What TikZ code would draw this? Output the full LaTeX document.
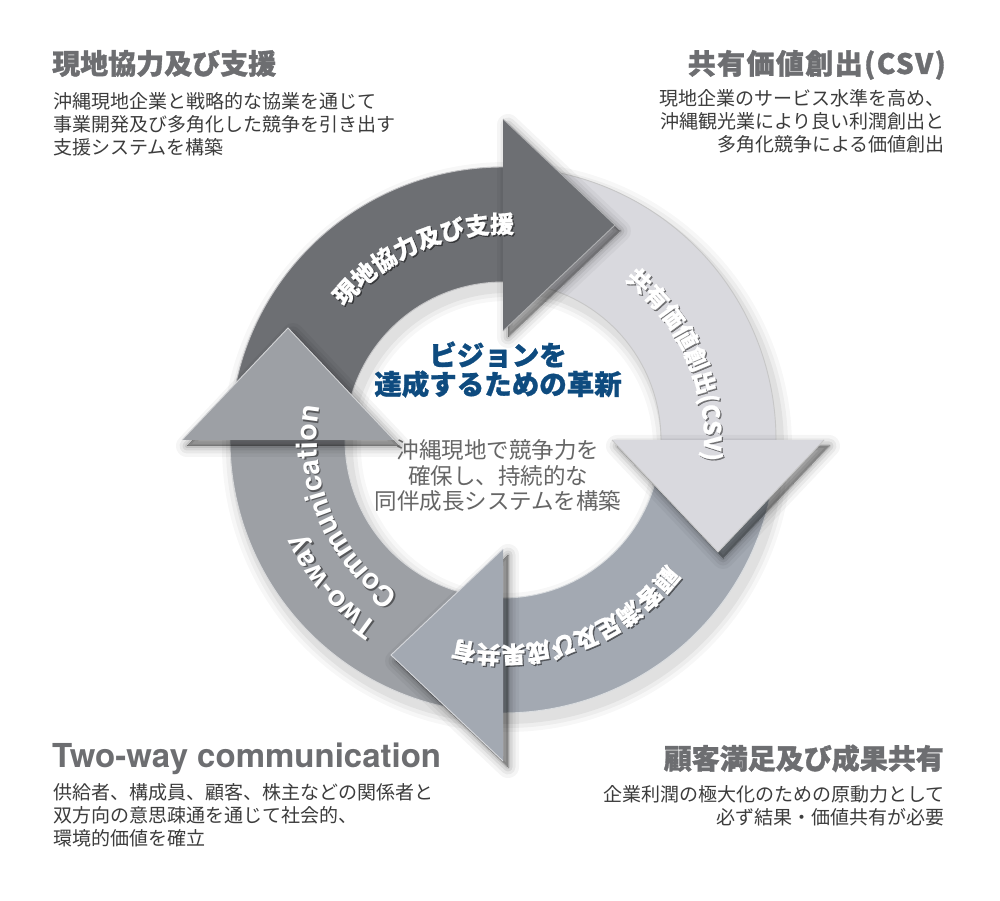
\documentclass[tikz,border=0pt]{standalone}
\usepackage{fontspec}
\setmainfont{Noto Sans CJK JP}
\newfontfamily\jp{Noto Sans CJK JP}
\newfontfamily\hel{TeX Gyre Heros}
\usetikzlibrary{decorations.text,calc}
\definecolor{cdark}{HTML}{6D6F73}
\definecolor{clight}{HTML}{D9D9DE}
\definecolor{cbot}{HTML}{A3A9B2}
\definecolor{cleft}{HTML}{9DA0A5}
\definecolor{ctitle}{HTML}{6D6E71}
\definecolor{cdesc}{HTML}{3C3C3C}
\definecolor{cblue}{HTML}{0E4B7F}
\definecolor{cgray}{HTML}{666666}
\newcommand\ringbody[4]{%
  \fill[#1] (#2:273) arc[start angle=#2, end angle=#3, radius=273] -- (#3:158) arc[start angle=#3, end angle=#2, radius=158] -- cycle;
  \draw[#4, line width=0.9] (#2:273) arc[start angle=#2, end angle=#3, radius=273];
  \draw[#4, line width=0.9] (#2:158) arc[start angle=#2, end angle=#3, radius=158];}
\newcommand\headpath[1]{(#1:109) -- (#1:321) -- ($(#1:215)+(#1-90:112)$) -- cycle}
\newcommand\ringhead[3]{%
  \foreach \w/\o in {22/0.04,15/0.05,9/0.07,4/0.09,0/0.11}{%
    \path[fill=black, draw=black, line width=\w, line join=round, opacity=\o, shift={(5,-6)}] \headpath{#2};}
  \fill[#1] \headpath{#2};
  \draw[#3, line width=0.9, line join=miter] (#2:109) -- ($(#2:215)+(#2-90:112)$) -- (#2:321);}
\newcommand\cjkheavy{\jp\bfseries\addfontfeature{FakeBold=0.8}}
\newcommand\arctext[6]{%
  \begin{scope}[opacity=0.45, shift={(1.3,-1.3)}]
  \path[decorate, decoration={text along path, text align=#6, text={|\cjkheavy\fontsize{#1}{#1}\selectfont\color{black}|#2}}] (#3:#5) arc[start angle=#3, end angle=#4, radius=#5];
  \end{scope}
  \path[decorate, decoration={text along path, text align=#6, text={|\cjkheavy\fontsize{#1}{#1}\selectfont\color{white}|#2}}] (#3:#5) arc[start angle=#3, end angle=#4, radius=#5];}
\newcommand\arctextlat[6]{%
  \begin{scope}[opacity=0.45, shift={(1.3,-1.3)}]
  \path[decorate, decoration={text along path, text align=#6, text={|\hel\bfseries\fontsize{#1}{#1}\selectfont\color{black}|#2}}] (#3:#5) arc[start angle=#3, end angle=#4, radius=#5];
  \end{scope}
  \path[decorate, decoration={text along path, text align=#6, text={|\hel\bfseries\fontsize{#1}{#1}\selectfont\color{white}|#2}}] (#3:#5) arc[start angle=#3, end angle=#4, radius=#5];}
\tikzset{
  ttl/.style={inner sep=0, text=ctitle, font=\jp\bfseries\addfontfeature{FakeBold=1.2}\fontsize{28}{28}\selectfont},
  ttllat/.style={inner sep=0, text=ctitle, font=\hel\bfseries\fontsize{33}{33}\selectfont},
  dsc/.style={inner sep=0, text=cdesc, font=\jp\fontsize{19}{19}\selectfont},
  ctrblue/.style={inner sep=0, text=cblue, font=\jp\bfseries\addfontfeature{FakeBold=1}\fontsize{27.5}{27.5}\selectfont},
  ctrgray/.style={inner sep=0, text=cgray, font=\jp\fontsize{22.5}{22.5}\selectfont},
}
\begin{document}
\begin{tikzpicture}[x=1pt,y=1pt]
\fill[white] (0,0) rectangle (1000,900);
\useasboundingbox (0,0) rectangle (1000,900);
\begin{scope}[shift={(503,460)}]
  % ring shadow
  \foreach \w/\o in {24/0.03,16/0.04,8/0.05}{%
    \draw[black, opacity=\o, line width=115+\w, shift={(4,-7)}] (0,0) circle[radius=215.5];}
  % bodies
  \ringbody{cdark}{180}{89.5}{white!60!cdark}
  \ringbody{clight}{90}{-0.5}{black!22}
  \ringbody{cbot}{0}{-90.5}{white!60!cbot}
  \ringbody{cleft}{270}{179.5}{white!60!cleft}
  % heads
  \ringhead{cdark}{90}{white!45!cdark}
  \ringhead{clight}{0}{black!22}
  \ringhead{cbot}{-90}{white!55!cbot}
  \ringhead{cleft}{180}{white!55!cleft}
  % curved labels
  \arctext{24}{現地協力及び支援}{165}{62}{207}{center}
  \arctext{23.5}{共有価値創出(CSV)}{75}{-28}{201}{center}
  \arctext{24}{顧客満足及び成果共有}{-20}{-121}{206}{center}
  \arctextlat{28.5}{Two-way}{236}{150}{222}{left}
  \arctextlat{28.5}{Communication}{236}{130}{186}{left}
\end{scope}
% centre
\node[ctrblue, anchor=base] (cb1) at (498,534.5) {ビジョンを};
\node[ctrblue, anchor=base] (cb2) at (498,505.5) {達成するための革新};
\node[ctrgray, anchor=base] (cg1) at (498,441.5) {沖縄現地で競争力を};
\node[ctrgray, anchor=base] (cg2) at (498,415.5) {確保し、持続的な};
\node[ctrgray, anchor=base] (cg3) at (498,390) {同伴成長システムを構築};
% top left
\node[ttl, anchor=base west] (t1) at (52,826) {現地協力及び支援};
\node[dsc, anchor=base west] (d11) at (53,791) {沖縄現地企業と戦略的な協業を通じて};
\node[dsc, anchor=base west] (d12) at (53,768) {事業開発及び多角化した競争を引き出す};
\node[dsc, anchor=base west] (d13) at (53,745) {支援システムを構築};
% top right
\node[ttl, anchor=base east] (t2) at (946,826) {\addfontfeature{LetterSpace=5}共有価値創出(CSV)};
\node[dsc, anchor=base east] (d21) at (945,794) {現地企業のサービス水準を高め、};
\node[dsc, anchor=base east] (d22) at (945,771) {沖縄観光業により良い利潤創出と};
\node[dsc, anchor=base east] (d23) at (945,748) {多角化競争による価値創出};
% bottom left
\node[ttllat, anchor=base west] (t3) at (52,133) {Two-way communication};
\node[dsc, anchor=base west] (d31) at (53,101) {供給者、構成員、顧客、株主などの関係者と};
\node[dsc, anchor=base west] (d32) at (53,78) {双方向の意思疎通を通じて社会的、};
\node[dsc, anchor=base west] (d33) at (53,55) {環境的価値を確立};
% bottom right
\node[ttl, anchor=base east] (t4) at (944,131) {顧客満足及び成果共有};
\node[dsc, anchor=base east] (d41) at (945,99) {企業利潤の極大化のための原動力として};
\node[dsc, anchor=base east] (d42) at (945,76) {必ず結果・価値共有が必要};
\end{tikzpicture}
\end{document}
